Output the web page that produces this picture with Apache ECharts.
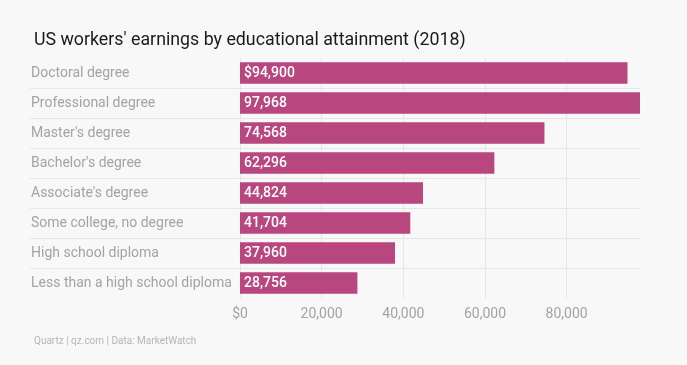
<!DOCTYPE html>
<html>
<head>
<meta charset="utf-8">
<script src="https://cdn.jsdelivr.net/npm/echarts@6/dist/echarts.min.js"></script>
<style>
html,body{margin:0;padding:0;background:#f8f8f8;}
#c{width:687px;height:365px;}
</style>
</head>
<body>
<div id="c"></div>
<script>
const categories = ["Doctoral degree","Professional degree","Master's degree","Bachelor's degree","Associate's degree","Some college, no degree","High school diploma","Less than a high school diploma"];
const earnings = [94900, 97968, 74568, 62296, 44824, 41704, 37960, 28756];
const xTicks = [0, 20000, 40000, 60000, 80000];
const titleText = "US workers' earnings by educational attainment (2018)";
const sourceText = "Quartz | qz.com | Data: MarketWatch";

const fmt = v => v.toLocaleString('en-US');
const FONT = 'Roboto, "Noto Sans", sans-serif';

const chart = echarts.init(document.getElementById('c'), null, {renderer: 'canvas'});
chart.setOption({
  backgroundColor: '#f8f8f8',
  animation: false,
  title: [
    {text: titleText, left: 29, top: 27, textStyle: {fontFamily: FONT, fontSize: 17.8, fontWeight: 'normal', color: '#1a1a1a'}},
    {text: sourceText, left: 29, top: 331, textStyle: {fontFamily: FONT, fontSize: 10, fontWeight: 'normal', color: '#b5b5b5'}}
  ],
  grid: [
    {left: 30, right: 47, top: 58, bottom: 67},
    {left: 240, right: 47, top: 58, bottom: 67}
  ],
  xAxis: [
    {gridIndex: 0, type: 'value', show: false, min: 0, max: 1},
    {gridIndex: 1, type: 'value', min: 0, max: 'dataMax', interval: 20000,
     axisLine: {show: false}, axisTick: {show: false},
     splitLine: {show: true, showMaxLine: false, lineStyle: {color: '#e6e6e6', width: 1}},
     axisLabel: {showMaxLabel: false, margin: 9, color: '#a3a3a3', fontFamily: FONT, fontSize: 14,
       formatter: v => xTicks.includes(v) ? (v === 0 ? '$0' : fmt(v)) : ''}}
  ],
  yAxis: [
    {gridIndex: 0, type: 'category', data: categories, inverse: true,
     axisLine: {show: false}, axisTick: {show: false},
     splitLine: {show: true, showMinLine: false, showMaxLine: false, lineStyle: {color: '#e6e6e6', width: 1}},
     axisLabel: {inside: true, margin: 1, color: '#a3a3a3', fontFamily: FONT, fontSize: 14}},
    {gridIndex: 1, type: 'category', data: categories, inverse: true, show: false}
  ],
  series: [{
    type: 'bar', xAxisIndex: 1, yAxisIndex: 1,
    data: earnings,
    barCategoryGap: '28%',
    itemStyle: {color: '#b8467f'},
    label: {show: true, position: 'insideLeft', distance: 4, color: '#ffffff',
      fontFamily: FONT, fontSize: 14, fontWeight: 500,
      formatter: p => (p.dataIndex === 0 ? '$' : '') + fmt(p.value)}
  }]
});
</script>
</body>
</html>
